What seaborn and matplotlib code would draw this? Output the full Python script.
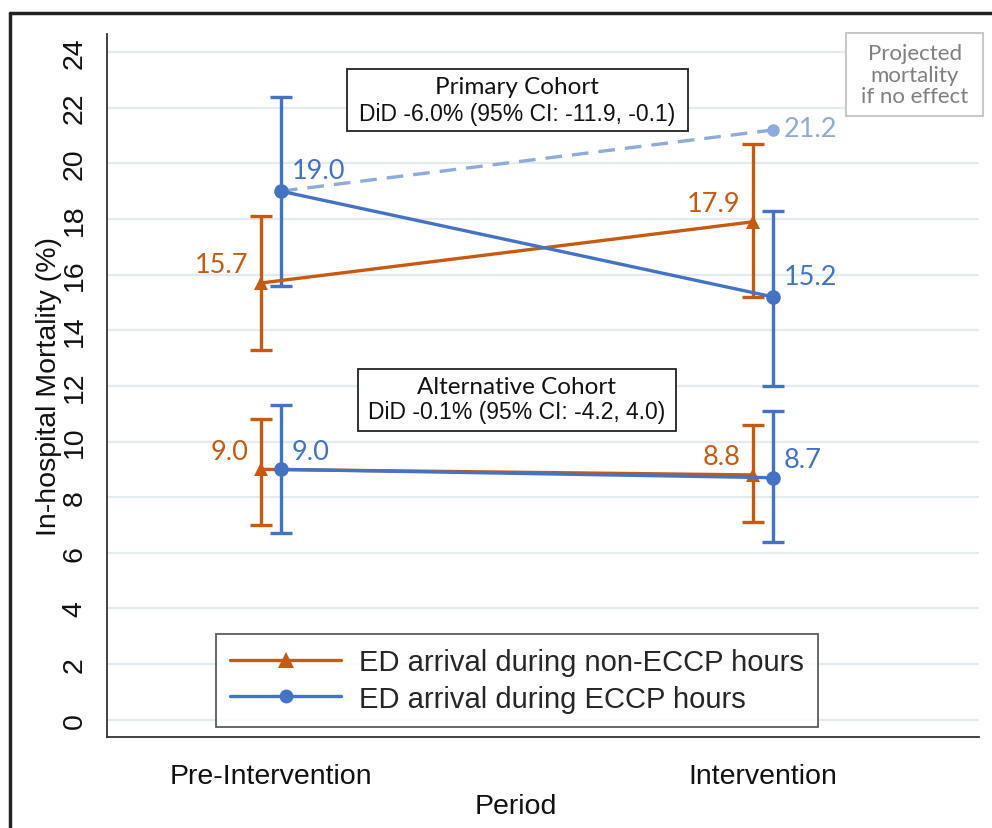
import numpy as np
import pandas as pd
import matplotlib
matplotlib.use('Agg')
import matplotlib.pyplot as plt
from matplotlib.lines import Line2D
from matplotlib.patches import Rectangle
import seaborn as sns

# data
periods = ['Pre-Intervention', 'Intervention']
groups = ['ED arrival during non-ECCP hours', 'ED arrival during ECCP hours']

primary_non = [15.7, 17.9]
primary_non_lo = [13.3, 15.2]
primary_non_hi = [18.1, 20.7]
primary_eccp = [19.0, 15.2]
primary_eccp_lo = [15.6, 12.0]
primary_eccp_hi = [22.4, 18.3]

alt_non = [9.0, 8.8]
alt_non_lo = [7.0, 7.1]
alt_non_hi = [10.8, 10.6]
alt_eccp = [9.0, 8.7]
alt_eccp_lo = [6.7, 6.4]
alt_eccp_hi = [11.3, 11.1]

projected = [19.0, 21.2]

yticks = list(range(0, 25, 2))

orange = '#C55A11'
blue = '#4472C4'
light = '#8FAADC'
dodge = {groups[0]: -0.02, groups[1]: 0.02}

rows = []
for cohort, vals_non, lo_non, hi_non, vals_e, lo_e, hi_e in [
        ('Primary', primary_non, primary_non_lo, primary_non_hi, primary_eccp, primary_eccp_lo, primary_eccp_hi),
        ('Alternative', alt_non, alt_non_lo, alt_non_hi, alt_eccp, alt_eccp_lo, alt_eccp_hi)]:
    for i, p in enumerate(periods):
        rows.append(dict(cohort=cohort, group=groups[0], period=i, value=vals_non[i], lo=lo_non[i], hi=hi_non[i]))
        rows.append(dict(cohort=cohort, group=groups[1], period=i, value=vals_e[i], lo=lo_e[i], hi=hi_e[i]))
df = pd.DataFrame(rows)
df['x'] = df['period'] + df['group'].map(dodge)

sns.set_theme(style='white')
plt.rcParams['font.family'] = ['Liberation Sans', 'DejaVu Sans']

fig = plt.figure(figsize=(9.92, 8.29), dpi=100)
ax = fig.add_axes([0.1079, 0.1098, 0.879, 0.848])

for v in yticks:
    ax.axhline(v, color='#E3EBEF', lw=1.6, zorder=0)

palette = {groups[0]: orange, groups[1]: blue}

# error bars
for g in groups:
    sub = df[df.group == g]
    ax.errorbar(sub['x'], sub['value'], yerr=[sub['value'] - sub['lo'], sub['hi'] - sub['value']],
                fmt='none', ecolor=palette[g], elinewidth=2.4, capsize=8, capthick=2.4, zorder=2)

# projected line
proj_x = [0 + dodge[groups[1]], 1 + dodge[groups[1]]]
ax.plot(proj_x, projected, color=light, lw=2.4, dashes=(5, 3), zorder=2)
ax.plot(proj_x[1], projected[1], 'o', color=light, ms=8, zorder=3)

sns.lineplot(data=df, x='x', y='value', hue='group', style='group', units='cohort',
             estimator=None, palette=palette, markers={groups[0]: '^', groups[1]: 'o'},
             dashes=False, lw=2.4, markersize=10.5, markeredgewidth=0, legend=False, ax=ax, zorder=4)

# value labels
lab_font = dict(family='Lato', fontsize=19.5)
for _, r in df.iterrows():
    if r['group'] == groups[0]:
        ax.annotate(f"{r['value']:.1f}", (r['x'], r['value']), xytext=(-9, 13),
                    textcoords='offset points', ha='right', va='center', color=orange, **lab_font)
    else:
        dy = 15 if r['cohort'] == 'Primary' else 13
        ax.annotate(f"{r['value']:.1f}", (r['x'], r['value']), xytext=(8, dy),
                    textcoords='offset points', ha='left', va='center', color=blue, **lab_font)
ax.annotate(f"{projected[1]:.1f}", (proj_x[1], projected[1]), xytext=(8, 1),
            textcoords='offset points', ha='left', va='center', color=light, **lab_font)

# cohort boxes
ax.add_patch(Rectangle((0.2752, 0.8624), 0.3911, 0.0879, transform=ax.transAxes,
                       fill=True, facecolor='white', edgecolor='#222222', lw=1.3, zorder=5))
ax.text(0.470, 0.9246, 'Primary Cohort', transform=ax.transAxes, ha='center', va='center',
        family='Lato', fontsize=17.5, color='#111111', zorder=6)
ax.text(0.470, 0.8862, 'DiD -6.0% (95% CI: -11.9, -0.1)', transform=ax.transAxes, ha='center',
        va='center', family='Liberation Sans', fontsize=16.5, color='#111111', zorder=6)

ax.add_patch(Rectangle((0.2878, 0.4353), 0.3647, 0.0882, transform=ax.transAxes,
                       fill=True, facecolor='white', edgecolor='#222222', lw=1.3, zorder=5))
ax.text(0.470, 0.4979, 'Alternative Cohort', transform=ax.transAxes, ha='center', va='center',
        family='Lato', fontsize=17.5, color='#111111', zorder=6)
ax.text(0.470, 0.4623, 'DiD -0.1% (95% CI: -4.2, 4.0)', transform=ax.transAxes, ha='center',
        va='center', family='Liberation Sans', fontsize=16.5, color='#111111', zorder=6)

# projected note
ax.add_patch(Rectangle((0.8479, 0.883), 0.1564, 0.118, transform=ax.transAxes, clip_on=False,
                       fill=True, facecolor='white', edgecolor='#C8C8C8', lw=1.5, zorder=5))
ax.text(0.9261, 0.942, 'Projected\nmortality\nif no effect', transform=ax.transAxes, ha='center',
        va='center', family='Lato', fontsize=16, color='#7F7F7F', linespacing=1.1, zorder=6)

# legend
handles = [Line2D([0], [0], color=orange, lw=2.4, marker='^', ms=12, mew=0),
           Line2D([0], [0], color=blue, lw=2.4, marker='o', ms=10, mew=0)]
leg = ax.legend(handles, groups, loc='lower center', bbox_to_anchor=(0.470, 0.014), borderaxespad=0,
                fontsize=21, handlelength=3.8, handletextpad=0.6, labelspacing=0.28,
                frameon=True, fancybox=False, edgecolor='#333333', borderpad=0.5)
leg.get_frame().set_linewidth(1.3)
leg.set_zorder(7)

ax.set_xlim(-0.3333, 1.439)
ax.set_ylim(-0.62, 24.65)
ax.set_xticks([0, 1])
ax.set_xticklabels(periods)
ax.set_yticks(yticks)
ax.set_yticklabels([str(v) for v in yticks], rotation=90, va='center')
ax.tick_params(axis='both', direction='out', length=8, width=1.3, color='#333333',
               labelsize=20.5, labelcolor='#111111')
ax.tick_params(axis='y', pad=6)
ax.tick_params(axis='x', pad=11)
ax.set_xlabel('Period', fontsize=20.5, color='#111111')
ax.set_ylabel('In-hospital Mortality (%)', fontsize=20.5, color='#111111')
ax.xaxis.set_label_coords(0.469, -0.079)
ax.yaxis.set_label_coords(-0.052, 0.5)

sns.despine(ax=ax)
for s in ['left', 'bottom']:
    ax.spines[s].set_color('#333333')
    ax.spines[s].set_linewidth(1.3)

# outer frame (partly cropped in the original)
fig.add_artist(Line2D([10 / 992, 10 / 992], [0, 1 - 14 / 829], color='#222222', lw=2.5))
fig.add_artist(Line2D([10 / 992, 1], [1 - 14 / 829, 1 - 14 / 829], color='#222222', lw=2.5))

fig.savefig('out.png', dpi=100, facecolor='white')
